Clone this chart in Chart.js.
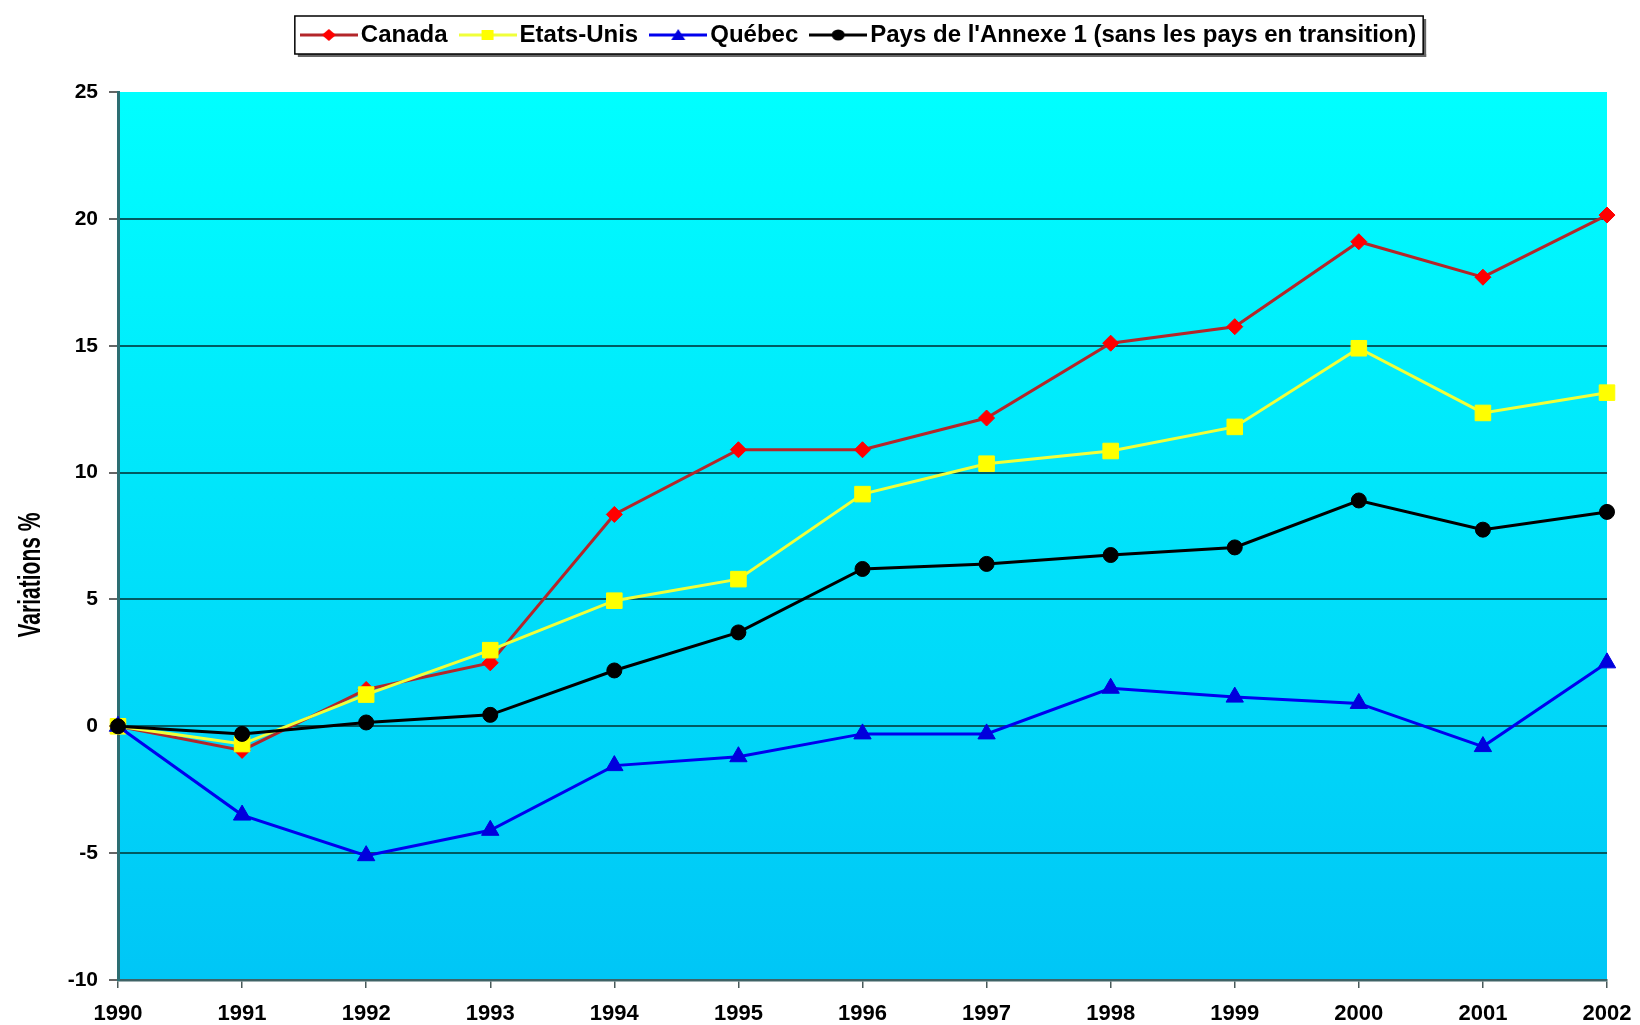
<!DOCTYPE html>
<html>
<head>
<meta charset="utf-8">
<script src="https://cdn.jsdelivr.net/npm/chart.js@4.4.1/dist/chart.umd.min.js"></script>
<style>
html,body{margin:0;padding:0;background:#fff;}
#wrap{width:1640px;height:1025px;position:relative;}
</style>
</head>
<body>
<div id="wrap"><canvas id="c" width="1640" height="1025"></canvas></div>
<script>
const years = ['1990','1991','1992','1993','1994','1995','1996','1997','1998','1999','2000','2001','2002'];
const canada = [0, -0.95, 1.45, 2.5, 8.35, 10.9, 10.9, 12.15, 15.1, 15.75, 19.1, 17.7, 20.15];
const etatsUnis = [0, -0.7, 1.25, 3.0, 4.95, 5.8, 9.15, 10.35, 10.85, 11.8, 14.9, 12.35, 13.15];
const quebec = [0, -3.5, -5.1, -4.1, -1.55, -1.2, -0.3, -0.3, 1.5, 1.15, 0.9, -0.8, 2.5];
const annexe1 = [0, -0.3, 0.15, 0.45, 2.2, 3.7, 6.2, 6.4, 6.75, 7.05, 8.9, 7.75, 8.45];
const seriesNames = ['Canada', 'Etats-Unis', 'Québec', "Pays de l'Annexe 1 (sans les pays en transition)"];
const yTicks = [-10, -5, 0, 5, 10, 15, 20, 25];
const yTitle = 'Variations %';

const FONT = "'Liberation Sans', Arial, sans-serif";

const styles = [
  {line:'#B3262A', fill:'#FF0000', point:'rectRot', r:8, order:4},
  {line:'#F0FF3A', fill:'#FFFF00', point:'rect', r:11, order:3},
  {line:'#0000EE', fill:'#0000DD', point:'triangle', r:10, order:2},
  {line:'#000000', fill:'#000000', point:'circle', r:7.5, order:1}
];
const values = [canada, etatsUnis, quebec, annexe1];

function legendIcon(st){
  const c = document.createElement('canvas');
  c.width = 58; c.height = 20;
  const g = c.getContext('2d');
  g.strokeStyle = st.line; g.lineWidth = 3;
  g.beginPath(); g.moveTo(0,10); g.lineTo(58,10); g.stroke();
  g.fillStyle = st.fill;
  const x = 29, y = 10;
  g.beginPath();
  if (st.point === 'rectRot'){ g.moveTo(x,y-6); g.lineTo(x+7,y); g.lineTo(x,y+6); g.lineTo(x-7,y); }
  else if (st.point === 'rect'){ g.rect(x-6,y-5,12,10); }
  else if (st.point === 'triangle'){ g.moveTo(x,y-6); g.lineTo(x+7,y+5); g.lineTo(x-7,y+5); }
  else { g.ellipse(x,y,6.5,5.5,0,0,Math.PI*2); }
  g.closePath(); g.fill();
  return c;
}
const icons = styles.map(legendIcon);

const PLOT_TOP = 92;
const TOP_PAD = 3;

const layoutPlugin = {
  id:'layoutFix',
  beforeLayout(chart){
    const lg = chart.legend;
    if (lg && !lg._patched){
      const orig = lg.fit;
      lg.fit = function(){ orig.call(this); this.height = PLOT_TOP - TOP_PAD; };
      lg._patched = true;
    }
  }
};
const bgPlugin = {
  id:'bg',
  beforeDraw(chart){
    const {ctx, chartArea:a} = chart;
    const grd = ctx.createLinearGradient(0, a.top, 0, a.bottom);
    grd.addColorStop(0, '#00FFFF');
    grd.addColorStop(1, '#00C6F6');
    ctx.save(); ctx.fillStyle = grd;
    ctx.fillRect(a.left, a.top, a.right - a.left, a.bottom - a.top);
    ctx.restore();
  }
};
const legendBox = {
  id:'legendBox',
  afterDraw(chart){
    const hb = chart.legend.legendHitBoxes;
    if (!hb || !hb.length) return;
    const first = hb[0], last = hb[hb.length-1];
    const x1 = first.left - 14, x2 = last.left + last.width + 7;
    const cy = first.top + first.height/2;
    const y1 = Math.round(cy - 19), y2 = Math.round(cy + 19);
    const ctx = chart.ctx;
    ctx.save();
    ctx.fillStyle = '#666';
    ctx.fillRect(x1+3, y2, x2-x1, 3);
    ctx.fillRect(x2, y1+3, 3, y2-y1);
    ctx.strokeStyle = '#000'; ctx.lineWidth = 1.5;
    ctx.strokeRect(x1, y1, x2-x1, y2-y1);
    ctx.restore();
  }
};
const yTitlePlugin = {
  id:'yTitle',
  afterDraw(chart){
    const ctx = chart.ctx;
    ctx.save();
    ctx.font = "bold 31px " + FONT;
    const w = ctx.measureText(yTitle).width;
    ctx.translate(40, 575);
    ctx.rotate(-Math.PI/2);
    ctx.scale(125 / w, 1);
    ctx.fillStyle = '#000';
    ctx.textAlign = 'center';
    ctx.textBaseline = 'alphabetic';
    ctx.fillText(yTitle, 0, 0);
    ctx.restore();
  }
};

new Chart(document.getElementById('c'), {
  type:'line',
  data:{
    labels: years,
    datasets: values.map((v,i)=>({
      label: seriesNames[i],
      data: v,
      borderColor: styles[i].line,
      backgroundColor: styles[i].fill,
      pointBackgroundColor: styles[i].fill,
      pointBorderColor: styles[i].fill,
      pointBorderWidth: 1,
      pointStyle: styles[i].point,
      pointRadius: styles[i].r,
      borderWidth: 3,
      tension: 0,
      order: styles[i].order,
      clip: false
    }))
  },
  options:{
    responsive:false,
    animation:false,
    events:[],
    layout:{padding:{top:TOP_PAD, right:33, bottom:0, left:0}},
    plugins:{
      tooltip:{enabled:false},
      legend:{
        position:'top',
        fullSize:false,
        labels:{
          usePointStyle:true,
          pointStyleWidth:40,
          padding:20,
          color:'#000',
          font:{family:FONT, size:24, weight:'bold'},
          generateLabels(chart){
            return chart.data.datasets.map((d,i)=>({
              text:d.label, pointStyle:icons[i], datasetIndex:i,
              fillStyle:d.backgroundColor, strokeStyle:d.borderColor, lineWidth:0, hidden:false
            }));
          }
        }
      }
    },
    scales:{
      x:{
        offset:false,
        grid:{display:true, drawOnChartArea:false, drawTicks:true, tickLength:8, color:'#4a5a5a', lineWidth:1.5},
        border:{display:true, color:'#3f6366', width:2.5},
        ticks:{color:'#000', padding:13, maxRotation:0, autoSkip:false, font:{family:FONT, size:22, weight:'bold'}},
        afterFit(s){ s.height = 45; s.paddingLeft = 0; s.paddingRight = 0; }
      },
      y:{
        min:-10, max:25,
        afterBuildTicks(s){ s.ticks = yTicks.map(v=>({value:v})); },
        grid:{
          color(ctx){ const v = ctx.tick && ctx.tick.value; return (v === 25 || v === -10) ? 'rgba(0,0,0,0)' : '#005a62'; },
          lineWidth:2, drawTicks:true, tickLength:9, tickColor:'#333', tickWidth:1.5
        },
        border:{display:true, color:'#2c6e72', width:3},
        ticks:{color:'#000', padding:11, font:{family:FONT, size:21, weight:'bold'}},
        title:{display:false, text:yTitle},
        afterFit(s){ s.width = 118; s.paddingTop = 0; s.paddingBottom = 0; }
      }
    }
  },
  plugins:[layoutPlugin, bgPlugin, legendBox, yTitlePlugin]
});
</script>
</body>
</html>
